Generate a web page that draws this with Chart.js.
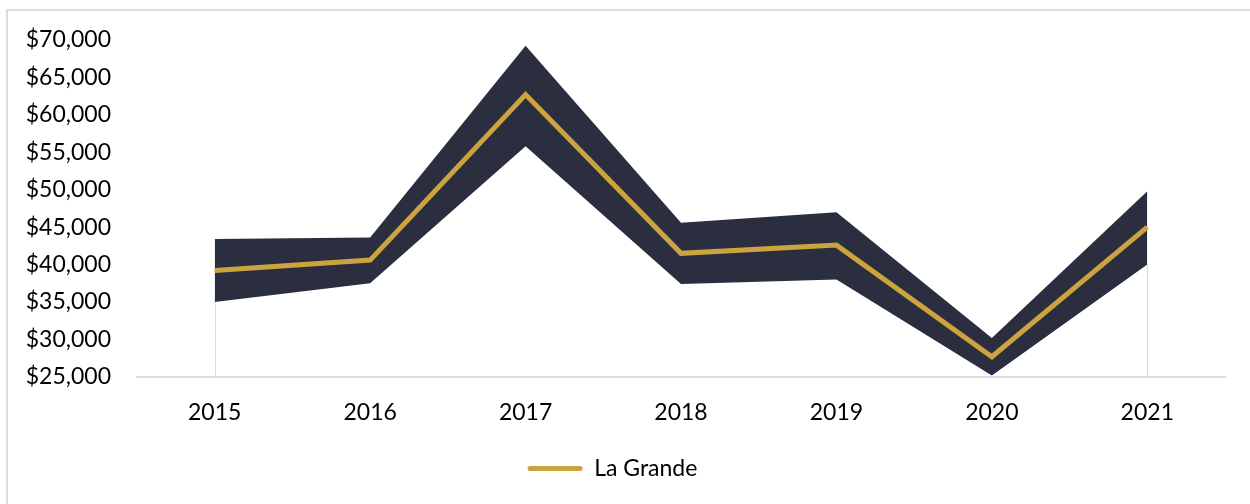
<!DOCTYPE html>
<html>
<head>
<meta charset="utf-8">
<script src="https://cdn.jsdelivr.net/npm/chart.js@4"></script>
<style>
    html, body { margin: 0; padding: 0; background: #fff; overflow: hidden; }
    #wrap { position: relative; width: 1250px; height: 504px; }
    #frame {
        position: absolute; left: 6px; top: 9px; width: 1260px; height: 520px;
        border: 2px solid #D9DCE8; box-sizing: border-box; pointer-events: none;
    }
</style>
</head>
<body>
<div id="wrap">
    <canvas id="chart" width="1250" height="504"></canvas>
    <div id="frame"></div>
</div>
<script>
// Yearly figures
const years = ['2015', '2016', '2017', '2018', '2019', '2020', '2021'];
const laGrande = [39200, 40600, 62700, 41500, 42600, 27700, 45000];
const rangeHigh = [43400, 43600, 69200, 45600, 47000, 30200, 49800];
const rangeLow = [35000, 37500, 55800, 37400, 38000, 25200, 40000];

const GOLD = '#CBA33F';
const NAVY = '#2B2E3F';

// Thin edge lines under the band at the first and last year
const edgeLines = {
    id: 'edgeLines',
    beforeDatasetsDraw(chart) {
        const meta = chart.getDatasetMeta(2);
        const pts = meta.data;
        const bottom = chart.chartArea.bottom;
        const ctx = chart.ctx;
        ctx.save();
        ctx.strokeStyle = '#D9D9D9';
        ctx.lineWidth = 1;
        [pts[0], pts[pts.length - 1]].forEach(p => {
            ctx.beginPath();
            ctx.moveTo(Math.round(p.x) + 0.5, p.y);
            ctx.lineTo(Math.round(p.x) + 0.5, bottom);
            ctx.stroke();
        });
        ctx.restore();
    }
};

const ctx = document.getElementById('chart').getContext('2d');
new Chart(ctx, {
    type: 'line',
    data: {
        labels: years,
        datasets: [
            {
                label: 'La Grande',
                data: laGrande,
                borderColor: GOLD,
                backgroundColor: GOLD,
                borderWidth: 5,
                pointRadius: 0,
                fill: false,
                tension: 0
            },
            {
                label: 'High',
                data: rangeHigh,
                borderWidth: 0,
                borderColor: NAVY,
                backgroundColor: NAVY,
                pointRadius: 0,
                fill: '+1',
                tension: 0
            },
            {
                label: 'Low',
                data: rangeLow,
                borderWidth: 0,
                borderColor: NAVY,
                backgroundColor: NAVY,
                pointRadius: 0,
                fill: false,
                tension: 0
            }
        ]
    },
    options: {
        responsive: false,
        animation: false,
        layout: { padding: { top: 39, right: 25, bottom: 14, left: 0 } },
        scales: {
            x: {
                offset: true,
                grid: { display: true, color: 'transparent', drawTicks: false },
                border: { display: true, color: '#D9DCE6', width: 2 },
                ticks: {
                    padding: 22,
                    color: '#000',
                    font: { family: 'Lato', size: 23 }
                },
                afterFit: s => { s.height = 70; }
            },
            y: {
                min: 25000,
                max: 70000,
                grid: { display: false, drawTicks: false },
                border: { display: false },
                ticks: {
                    stepSize: 5000,
                    padding: 26,
                    color: '#000',
                    font: { family: 'Lato', size: 23 },
                    callback: v => '$' + v.toLocaleString('en-US')
                },
                afterFit: s => { s.width = 137; }
            }
        },
        plugins: {
            tooltip: { enabled: false },
            legend: {
                position: 'bottom',
                labels: {
                    boxWidth: 55,
                    boxHeight: 5,
                    useBorderRadius: true,
                    borderRadius: 2.5,
                    padding: 10,
                    color: '#000',
                    font: { family: 'Lato', size: 23 },
                    generateLabels: chart => Chart.defaults.plugins.legend.labels
                        .generateLabels(chart)
                        .filter(l => l.datasetIndex === 0)
                        .map(l => ({ ...l, lineWidth: 0 }))
                }
            }
        }
    },
    plugins: [edgeLines]
});
</script>
</body>
</html>
